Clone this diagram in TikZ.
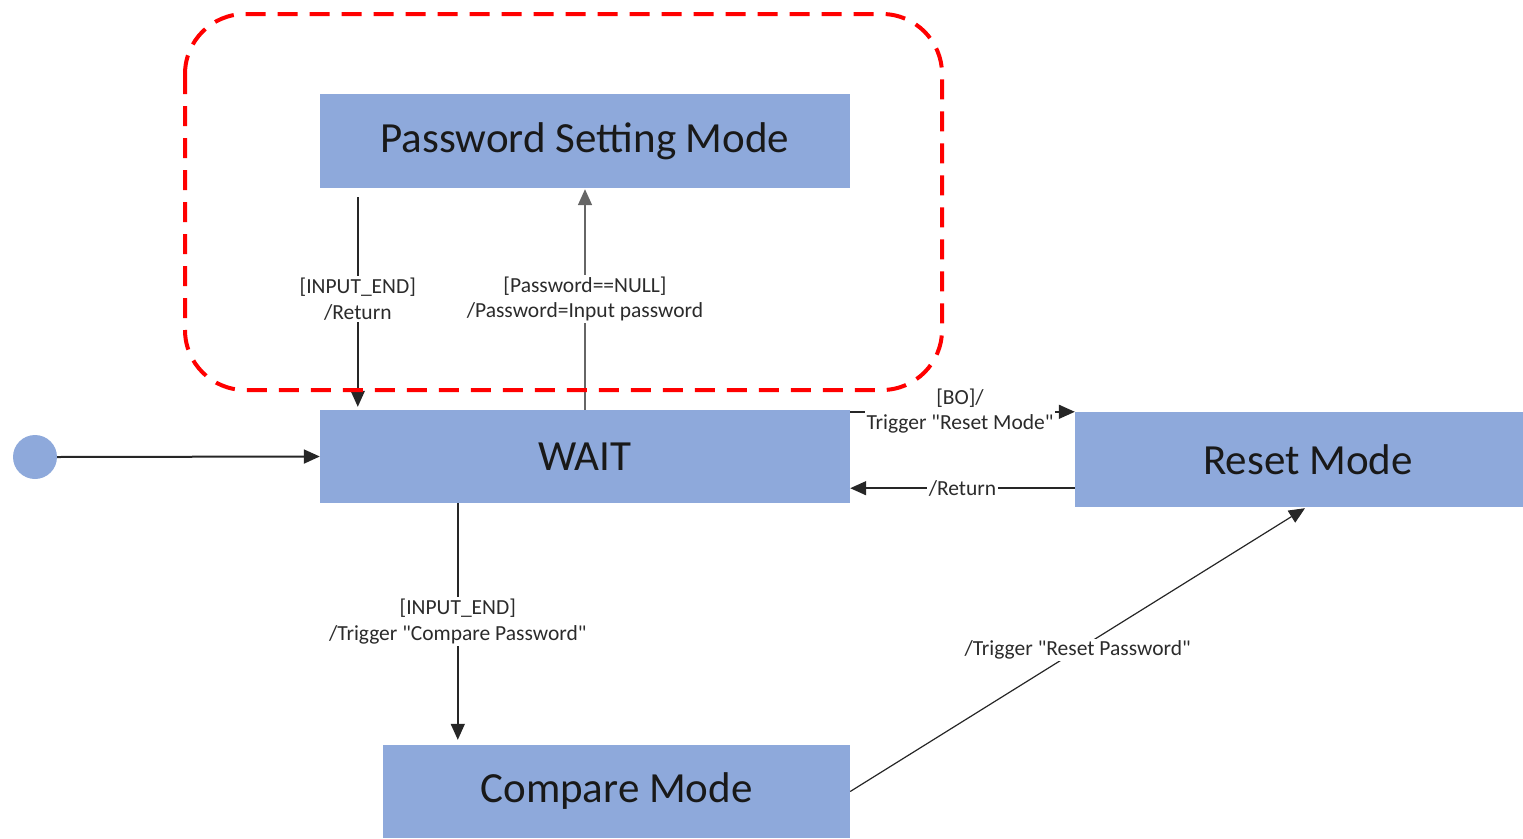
\documentclass[tikz,border=0pt]{standalone}
\usepackage{fontspec}
\setmainfont{Carlito}
\usetikzlibrary{arrows.meta,calc}
\definecolor{stateblue}{HTML}{8EA9DB}
\definecolor{labelgray}{HTML}{2B2B2B}
\newcommand{\dq}{\textquotedbl}
\tikzset{
  statebox/.style={fill=stateblue, draw=none, inner sep=0pt, font=\fontsize{43}{48}\selectfont, text=black!90},
  trans/.style={line width=1.6pt, draw=black!85, -{Triangle[length=16pt,width=14pt]}},
  translabel/.style={fill=white, inner sep=2pt, align=center, text=labelgray, font=\fontsize{21.5}{25.5}\selectfont},
  regionbox/.style={draw=red, line width=4pt, dash pattern=on 20pt off 12pt, rounded corners=60pt}
}
\begin{document}
\begin{tikzpicture}[x=1pt,y=-1pt]
\useasboundingbox (0,0) rectangle (1523,838);

% states
\node[statebox, minimum width=530pt, minimum height=94pt] (psm) at (585,141) {Password Setting Mode};
\node[statebox, minimum width=530pt, minimum height=93pt] (wait) at (585,456.5) {WAIT};
\node[statebox, minimum width=466pt, minimum height=95pt] (reset) at (1308,459.5) {Reset Mode};
\node[statebox, minimum width=467pt, minimum height=93pt] (cmp) at (616.5,791.5) {Compare Mode};
\node[circle, fill=stateblue, minimum size=44pt, inner sep=0pt] (init) at (35,457) {};

% transitions
\draw[trans, line width=2pt] (init.east) -- (wait.west);

\coordinate (psmA) at ([xshift=38pt]psm.south west);
\coordinate (waitA) at ([xshift=38pt]wait.north west);
\draw[trans, shorten <=9pt, shorten >=3pt] (psmA) -- node[translabel, pos=0.5] {[INPUT\_END]\\/Return} (waitA);

\draw[trans, draw=black!60, shorten >=1pt] (wait.north) -- node[translabel, pos=0.5] {[Password==NULL]\\/Password=Input password} (psm.south);

\coordinate (waitB) at ([yshift=-2pt]wait.north east);
\coordinate (resetB) at (waitB -| reset.west);
\draw[trans] (waitB) -- (resetB);
\node[translabel] (lblB) at (960,411) {[BO]/\\Trigger \dq Reset Mode\dq};

\coordinate (resetC) at ([yshift=19pt]reset.south west);
\coordinate (waitC) at (resetC -| wait.east);
\draw[trans] (resetC) -- node[translabel, pos=0.5] {/Return} (waitC);

\coordinate (waitD) at ([xshift=138pt]wait.south west);
\coordinate (cmpD) at ([yshift=5pt]waitD |- cmp.north);
\draw[trans] (waitD) -- node[translabel, pos=0.5] {[INPUT\_END]\\/Trigger \dq Compare Password\dq} (cmpD);

\coordinate (cmpE) at (cmp.east);
\coordinate (resetE) at ([xshift=-3pt,yshift=-1pt]reset.south);
\draw[trans, line width=1.2pt] (cmpE) -- node[translabel, pos=0.5] {/Trigger \dq Reset Password\dq} (resetE);

% grouped region
\draw[regionbox] (185,14) rectangle (942,390);
\end{tikzpicture}
\end{document}
